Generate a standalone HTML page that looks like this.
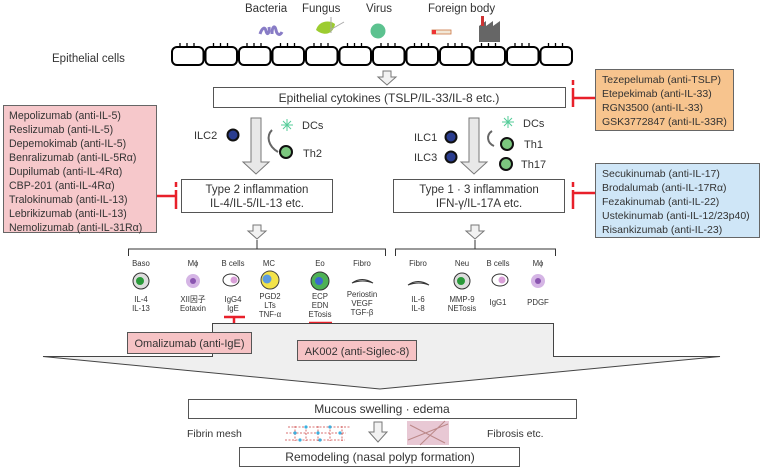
<!DOCTYPE html>
<html><head><meta charset="utf-8"><style>
html,body{margin:0;padding:0;background:#fff}
svg{display:block}
text{font-family:"Liberation Sans","Noto Sans CJK JP",sans-serif;fill:#333}
</style></head><body>
<svg width="767" height="468" viewBox="0 0 767 468" xmlns="http://www.w3.org/2000/svg">
<defs>
<g id="cell"><rect x="0" y="0" width="31.5" height="18" rx="5" fill="#fff" stroke="#000" stroke-width="2"/><path d="M8 0v-4M15 0v-4M22 0v-4" stroke="#000" stroke-width="1.3"/></g>
</defs>
<g font-size="11.5">
<text x="245" y="12">Bacteria</text><text x="302" y="12">Fungus</text><text x="366" y="12">Virus</text><text x="428" y="12">Foreign body</text>
<text x="52" y="62">Epithelial cells</text>
</g>
<path d="M260 34c2-6 5-8 6-3s4 2 3-4M272 34c0-8 3-9 4-4s4 6 6 2" stroke="#6a5bb8" stroke-width="3" fill="none" opacity=".8"/>
<path d="M316 30c3-10 14-10 19-6c-1 8-9 14-19 6z" fill="#9ccc30"/><path d="M330 30l14-8M331 17v16" stroke="#aaa" stroke-width="1"/>
<circle cx="378" cy="31" r="7.5" fill="#5cc28f"/>
<rect x="432" y="30" width="19" height="4" fill="#f2e8d8" stroke="#c74" stroke-width=".8"/><rect x="432" y="30" width="4" height="4" fill="#e33"/>
<path d="M479 42v-16l7-5v5l7-5v5l7-5v21z" fill="#666"/><rect x="481" y="16" width="3" height="10" fill="#c33"/>
<g transform="translate(172,47)">
<use href="#cell" x="0"/><use href="#cell" x="33.5"/><use href="#cell" x="67"/><use href="#cell" x="100.5"/><use href="#cell" x="134"/><use href="#cell" x="167.5"/><use href="#cell" x="201"/><use href="#cell" x="234.5"/><use href="#cell" x="268"/><use href="#cell" x="301.5"/><use href="#cell" x="335"/><use href="#cell" x="368.5"/>
</g>
<g fill="#f2f2f2" stroke="#777" stroke-width="1">
<path d="M383 71h8v6h5l-9 8-9-8h5z"/>
<path d="M253 225h8v6h5l-9 8-9-8h5z"/>
<path d="M471 225h8v6h5l-9 8-9-8h5z"/>
<path d="M374 422h8v10h5l-9 10-9-10h5z"/>
<path d="M251 118h10v44h8l-13 12-13-12h8z" fill="#e8e8e8"/>
<path d="M469 118h10v44h8l-13 12-13-12h8z" fill="#e8e8e8"/>
</g>
<rect x="213.5" y="87.5" width="352" height="20" fill="#fff" stroke="#555"/>
<text x="389" y="102" font-size="12" text-anchor="middle">Epithelial cytokines (TSLP/IL-33/IL-8 etc.)</text>
<rect x="595.5" y="69.5" width="138" height="61" fill="#f7c48e" stroke="#666"/>
<g font-size="10.5"><text x="602" y="83">Tezepelumab (anti-TSLP)</text><text x="602" y="97">Etepekimab (anti-IL-33)</text><text x="602" y="111">RGN3500 (anti-IL-33)</text><text x="602" y="125">GSK3772847 (anti-IL-33R)</text></g>
<g stroke="#e8202a" stroke-width="2.5" fill="none">
<path d="M573 80v5M573 88v19M573 98h22"/>
<path d="M573 182v5M573 190v19M573 193h22"/>
<path d="M176 182v5M176 190v19M157 196h19"/>
<path d="M224 317h21M234 317v15"/>
<path d="M309 323h23M320 323v17"/>
</g>
<rect x="3.5" y="105.5" width="153" height="127" fill="#f6c8cb" stroke="#666"/>
<g font-size="10.6"><text x="9" y="119">Mepolizumab (anti-IL-5)</text><text x="9" y="133">Reslizumab (anti-IL-5)</text><text x="9" y="147">Depemokimab (anti-IL-5)</text><text x="9" y="161">Benralizumab (anti-IL-5Rα)</text><text x="9" y="175">Dupilumab (anti-IL-4Rα)</text><text x="9" y="189">CBP-201 (anti-IL-4Rα)</text><text x="9" y="203">Tralokinumab (anti-IL-13)</text><text x="9" y="217">Lebrikizumab (anti-IL-13)</text><text x="9" y="231">Nemolizumab (anti-IL-31Rα)</text></g>
<rect x="595.5" y="163.5" width="164" height="74" fill="#cfe6f7" stroke="#666"/>
<g font-size="10.5"><text x="602" y="177">Secukinumab (anti-IL-17)</text><text x="602" y="191">Brodalumab (anti-IL-17Rα)</text><text x="602" y="205">Fezakinumab (anti-IL-22)</text><text x="602" y="219">Ustekinumab (anti-IL-12/23p40)</text><text x="602" y="233">Risankizumab (anti-IL-23)</text></g>
<g font-size="11">
<text x="194" y="139">ILC2</text><text x="302" y="129">DCs</text><text x="303" y="157">Th2</text>
<text x="414" y="141">ILC1</text><text x="414" y="161">ILC3</text><text x="523" y="127">DCs</text><text x="524" y="148">Th1</text><text x="521" y="168">Th17</text>
</g>
<g stroke="#111" stroke-width="2">
<circle cx="233" cy="135" r="5.5" fill="#2a3d8f"/>
<circle cx="451" cy="137" r="5.5" fill="#2a3d8f"/><circle cx="451" cy="157" r="5.5" fill="#2a3d8f"/>
<circle cx="286" cy="152" r="6" fill="#7cc77f"/><circle cx="507" cy="144" r="6" fill="#7cc77f"/><circle cx="506" cy="164" r="6" fill="#7cc77f"/>
</g>
<g stroke="#5c9" stroke-width="1"><path d="M281 125h12M287 119v12M283 121l8 8M291 121l-8 8"/><path d="M502 122h12M508 116v12M504 118l8 8M512 118l-8 8"/></g>
<path d="M272 130c-6 6-4 16 6 22" stroke="#666" stroke-width="2" fill="none"/>
<path d="M492 131c-6 4-5 12 2 15" stroke="#666" stroke-width="2" fill="none"/>
<rect x="181.5" y="179.5" width="151" height="33" fill="#fff" stroke="#555"/>
<text x="257" y="193" font-size="11.5" text-anchor="middle">Type 2 inflammation</text>
<text x="257" y="207" font-size="11.5" text-anchor="middle">IL-4/IL-5/IL-13 etc.</text>
<rect x="393.5" y="179.5" width="171" height="33" fill="#fff" stroke="#555"/>
<text x="479" y="193" font-size="11.5" text-anchor="middle">Type 1 · 3 inflammation</text>
<text x="479" y="207" font-size="11.5" text-anchor="middle">IFN-γ/IL-17A etc.</text>
<path d="M128.5 256v-7h257v7M257 240v9" stroke="#333" fill="none"/>
<path d="M395.5 256v-7h160v7M475 240v9" stroke="#333" fill="none"/>
<g font-size="7.8" text-anchor="middle">
<text x="141" y="266">Baso</text><text x="193" y="266">Mϕ</text><text x="233" y="266">B cells</text><text x="269" y="266">MC</text><text x="320" y="266">Eo</text><text x="362" y="266">Fibro</text><text x="418" y="266">Fibro</text><text x="462" y="266">Neu</text><text x="498" y="266">B cells</text><text x="538" y="266">Mϕ</text>
<text x="141" y="302">IL-4</text><text x="141" y="311">IL-13</text>
<text x="193" y="302">XII因子</text><text x="193" y="311">Eotaxin</text>
<text x="233" y="302">IgG4</text><text x="233" y="311">IgE</text>
<text x="270" y="299">PGD2</text><text x="270" y="308">LTs</text><text x="270" y="317">TNF-α</text>
<text x="320" y="299">ECP</text><text x="320" y="308">EDN</text><text x="320" y="317">ETosis</text>
<text x="362" y="297">Periostin</text><text x="362" y="306">VEGF</text><text x="362" y="315">TGF-β</text>
<text x="418" y="302">IL-6</text><text x="418" y="311">IL-8</text>
<text x="462" y="302">MMP-9</text><text x="462" y="311">NETosis</text>
<text x="498" y="305">IgG1</text><text x="538" y="305">PDGF</text>
</g>
<circle cx="141" cy="281" r="8" fill="#ddd" stroke="#333"/><circle cx="140" cy="281" r="4" fill="#2a9a3a"/>
<circle cx="193" cy="281" r="7" fill="#d5b5e5"/><circle cx="193" cy="281" r="3" fill="#8a55b0"/>
<ellipse cx="231" cy="280" rx="8" ry="6" fill="#fff" stroke="#333"/><circle cx="234" cy="280" r="3.5" fill="#d9a0d8"/>
<circle cx="270" cy="280" r="9" fill="#f3e34a" stroke="#444"/><circle cx="267" cy="279" r="4.5" fill="#5a9ae0"/>
<circle cx="320" cy="281" r="9" fill="#4db156" stroke="#333"/><circle cx="319" cy="281" r="4" fill="#3a6ad0"/>
<path d="M352 283q10-7 21 0q-10-4-21 0z" fill="#eee" stroke="#333"/>
<path d="M408 285q10-7 21 0q-10-4-21 0z" fill="#eee" stroke="#333"/>
<circle cx="462" cy="281" r="8" fill="#ddd" stroke="#333"/><circle cx="461" cy="281" r="4" fill="#2a9a3a"/>
<ellipse cx="500" cy="280" rx="8" ry="6" fill="#fff" stroke="#333"/><circle cx="502" cy="280" r="3.5" fill="#d9a0d8"/>
<circle cx="538" cy="281" r="7" fill="#d5b5e5"/><circle cx="538" cy="281" r="3" fill="#8a55b0"/>
<path d="M212.5 323.5H553.5V356.5H720L380 389L43 356.5H212.5Z" fill="#efefef" stroke="#444"/>
<rect x="127.5" y="332.5" width="124" height="21" fill="#f6c3c5" stroke="#555"/>
<text x="189.5" y="347" font-size="11" text-anchor="middle">Omalizumab (anti-IgE)</text>
<rect x="297.5" y="340.5" width="119" height="20" fill="#f6c3c5" stroke="#555"/>
<text x="357" y="355" font-size="11" text-anchor="middle">AK002 (anti-Siglec-8)</text>
<rect x="188.5" y="399.5" width="388" height="19" fill="#fff" stroke="#555"/>
<text x="382" y="413" font-size="12" text-anchor="middle">Mucous swelling · edema</text>
<text x="187" y="437" font-size="10.5">Fibrin mesh</text>
<text x="487" y="437" font-size="10.5">Fibrosis etc.</text>
<g stroke="#c44" stroke-width=".8" stroke-dasharray="2 1.5"><path d="M288 427h62M286 433h60M285 440h60M295 426v15M306 426v15M318 426v15M330 426v15M342 426v15"/></g>
<g fill="#3ab0e0"><circle cx="295" cy="433" r="1.6"/><circle cx="306" cy="427" r="1.6"/><circle cx="318" cy="433" r="1.6"/><circle cx="330" cy="427" r="1.6"/><circle cx="300" cy="440" r="1.6"/><circle cx="320" cy="440" r="1.6"/><circle cx="340" cy="433" r="1.6"/></g>
<rect x="407" y="421" width="42" height="24" fill="#e8c8d4"/><path d="M408 440l40-16M410 425l35 18M420 445l25-24" stroke="#b88" stroke-width="1"/>
<rect x="239.5" y="447.5" width="280" height="19" fill="#fff" stroke="#555"/>
<text x="380" y="461" font-size="12" text-anchor="middle">Remodeling (nasal polyp formation)</text>
</svg>
</body></html>
